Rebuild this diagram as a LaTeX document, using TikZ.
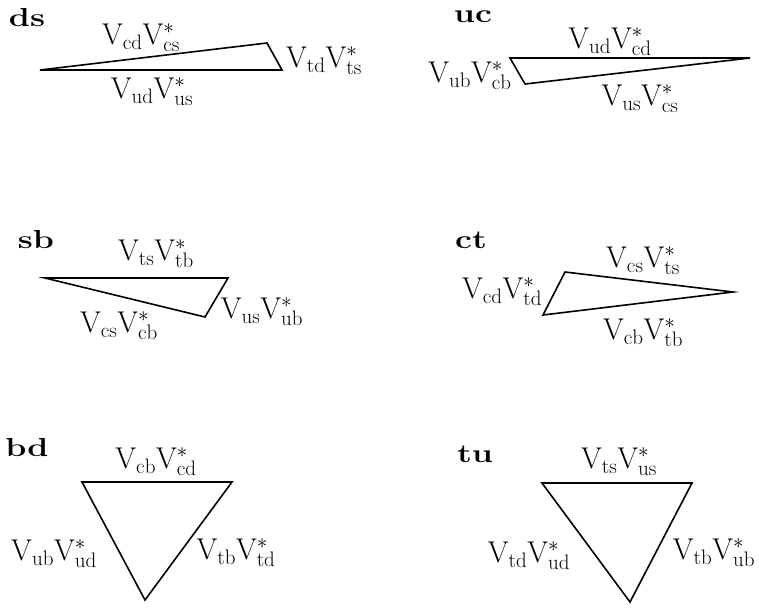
\RequirePackage{fix-cm}
\documentclass[tikz,border=0pt]{standalone}
\usepackage{fontspec}
\newcommand{\VV}[2]{$\mathrm{V}_{\mathrm{#1}}\mathrm{V}_{\mathrm{#2}}^{*}$}
\newcommand{\wide}[1]{\scalebox{1.3}[1]{#1}}
\begin{document}
\begin{tikzpicture}[x=1pt,y=-1pt,
  tri/.style={line width=1.6pt,line join=miter},
  lab/.style={inner sep=0pt,font=\fontsize{30}{33}\selectfont},
  ttl/.style={inner sep=0pt,font=\fontsize{26}{30}\selectfont\bfseries}]
\useasboundingbox (0,0) rectangle (759,614);
% ds
\node[ttl] (tds) at (27,18) {\wide{ds}};
\coordinate (ds1) at (40,70); \coordinate (ds2) at (282,70); \coordinate (ds3) at (267,43);
\draw[tri] (ds1) -- (ds2) -- (ds3) -- cycle;
\node[lab] (ds-a) at (141,38) {\VV{cd}{cs}};
\node[lab] (ds-b) at (324,61) {\VV{td}{ts}};
\node[lab] (ds-c) at (152,92) {\VV{ud}{us}};
% uc
\node[ttl] (tuc) at (473,17) {\wide{uc}};
\coordinate (uc1) at (510,58); \coordinate (uc2) at (750,58); \coordinate (uc3) at (525,84);
\draw[tri] (uc1) -- (uc2) -- (uc3) -- cycle;
\node[lab] (uc-a) at (610,42) {\VV{ud}{cd}};
\node[lab] (uc-b) at (470,76) {\VV{ub}{cb}};
\node[lab] (uc-c) at (640,99) {\VV{us}{cs}};
% sb
\node[ttl] (tsb) at (36,240) {\wide{sb}};
\coordinate (sb1) at (45,278); \coordinate (sb2) at (228,278); \coordinate (sb3) at (205,317);
\draw[tri] (sb1) -- (sb2) -- (sb3) -- cycle;
\node[lab] (sb-a) at (156,254) {\VV{ts}{tb}};
\node[lab] (sb-b) at (262,312) {\VV{us}{ub}};
\node[lab] (sb-c) at (119,326) {\VV{cs}{cb}};
% ct
\node[ttl] (tct) at (471,240) {\wide{ct}};
\coordinate (ct1) at (565,272); \coordinate (ct2) at (733,292); \coordinate (ct3) at (543,315);
\draw[tri] (ct1) -- (ct2) -- (ct3) -- cycle;
\node[lab] (ct-a) at (643,261) {\VV{cs}{ts}};
\node[lab] (ct-b) at (502,292) {\VV{cd}{td}};
\node[lab] (ct-c) at (643,333) {\VV{cb}{tb}};
% bd
\node[ttl] (tbd) at (27,448) {\wide{bd}};
\coordinate (bd1) at (82,482); \coordinate (bd2) at (232,482); \coordinate (bd3) at (145,600);
\draw[tri] (bd1) -- (bd2) -- (bd3) -- cycle;
\node[lab] (bd-a) at (156,462) {\VV{cb}{cd}};
\node[lab] (bd-b) at (54,554) {\VV{ub}{ud}};
\node[lab] (bd-c) at (236,553) {\VV{tb}{td}};
% tu
\node[ttl] (ttu) at (475,454) {\wide{tu}};
\coordinate (tu1) at (542,483); \coordinate (tu2) at (692,483); \coordinate (tu3) at (630,602);
\draw[tri] (tu1) -- (tu2) -- (tu3) -- cycle;
\node[lab] (tu-a) at (619,462) {\VV{ts}{us}};
\node[lab] (tu-b) at (529,556) {\VV{td}{ud}};
\node[lab] (tu-c) at (714,553) {\VV{tb}{ub}};
\end{tikzpicture}
\end{document}
